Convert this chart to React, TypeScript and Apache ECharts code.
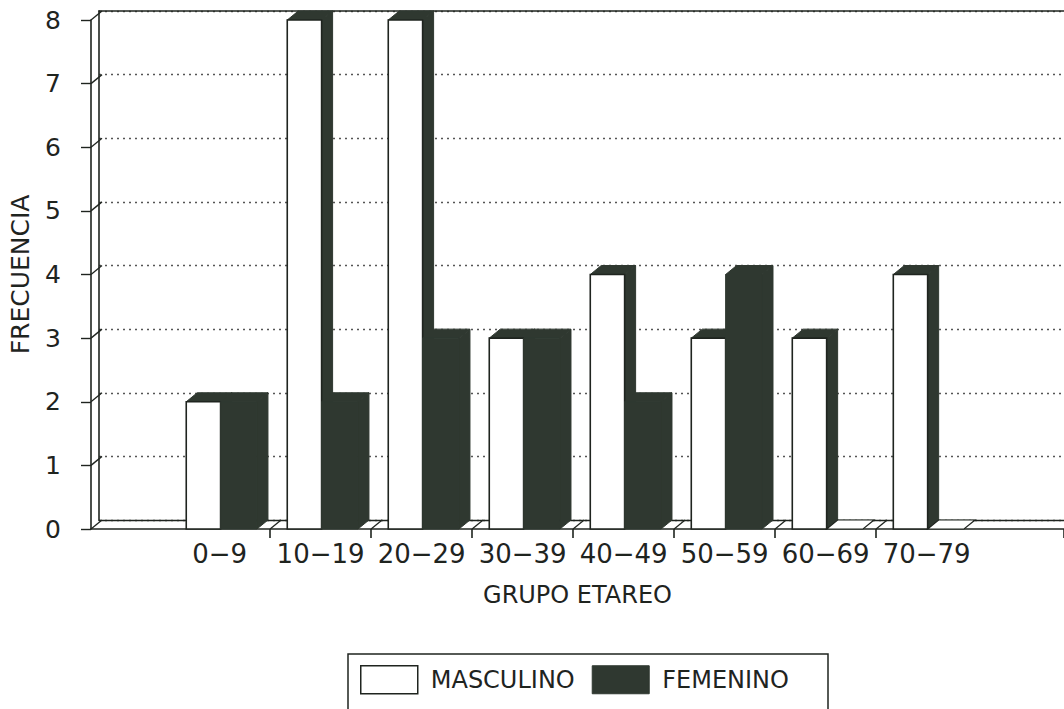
import React, { useEffect, useRef } from "react";
import * as echarts from "echarts";

// Grupos etarios y frecuencias por sexo
const CATEGORIAS = ["0−9", "10−19", "20−29", "30−39", "40−49", "50−59", "60−69", "70−79"];
const MASCULINO = [2, 8, 8, 3, 4, 3, 3, 4];
const FEMENINO = [2, 2, 3, 3, 2, 4, 0, 0];
const NIVELES_Y = [0, 1, 2, 3, 4, 5, 6, 7, 8];
const LIMITES_X = [0.5, 1.5, 2.5, 3.5, 4.5, 5.5, 6.5];

const X_MIN = -1.273;
const X_MAX = 8.36;

// pseudo-3D depth of the bars and back wall, in pixels
const DX = 11;
const DY = -9;

// bar extents inside each category slot (in category units)
const M_L = -0.33;
const M_R = 0.01;
const F_L = 0.01;
const F_R = 0.37;

const INK = "#1f241f";
const DARK = "#2f3830";
const FONT = "DejaVu Sans";

function faces(api: any, left: number, right: number, v: number) {
  const a = api.coord([left, v]);
  const b = api.coord([right, 0]);
  const x0 = a[0];
  const yT = a[1];
  const x1 = b[0];
  const yB = b[1];
  return {
    x0,
    x1,
    yT,
    yB,
    top: [
      [x0, yT],
      [x1, yT],
      [x1 + DX, yT + DY],
      [x0 + DX, yT + DY],
    ],
    side: [
      [x1, yT],
      [x1 + DX, yT + DY],
      [x1 + DX, yB + DY],
      [x1, yB],
    ],
  };
}

function renderMasculino(_params: any, api: any) {
  const i = api.value(0);
  const v = api.value(1);
  const f = faces(api, i + M_L, i + M_R, v);
  return {
    type: "group",
    children: [
      { type: "polygon", shape: { points: f.side }, style: { fill: DARK, stroke: DARK, lineWidth: 1 } },
      { type: "polygon", shape: { points: f.top }, style: { fill: DARK, stroke: DARK, lineWidth: 1 } },
      {
        type: "rect",
        shape: { x: f.x0, y: f.yT, width: f.x1 - f.x0, height: f.yB - f.yT },
        style: { fill: "#ffffff", stroke: INK, lineWidth: 1.6 },
      },
    ],
  };
}

function renderFemenino(_params: any, api: any) {
  const i = api.value(0);
  const v = api.value(1);
  const f = faces(api, i + F_L, i + F_R, v);
  if (v === 0) {
    return {
      type: "polygon",
      shape: { points: f.top },
      style: { fill: "#ffffff", stroke: INK, lineWidth: 1.2 },
    };
  }
  return {
    type: "group",
    children: [
      { type: "polygon", shape: { points: f.side }, style: { fill: DARK, stroke: DARK, lineWidth: 1 } },
      { type: "polygon", shape: { points: f.top }, style: { fill: DARK, stroke: DARK, lineWidth: 1 } },
      {
        type: "rect",
        shape: { x: f.x0, y: f.yT, width: f.x1 - f.x0, height: f.yB - f.yT },
        style: { fill: DARK, stroke: DARK, lineWidth: 1 },
      },
    ],
  };
}

// short depth edges joining the front axes to the back wall / floor
function renderArista(_params: any, api: any) {
  const p = api.coord([api.value(0), api.value(1)]);
  return {
    type: "line",
    shape: { x1: p[0], y1: p[1], x2: p[0] + DX, y2: p[1] + DY },
    style: { stroke: INK, lineWidth: 1.3 },
  };
}

export default function App() {
  const ref = useRef<HTMLDivElement>(null);

  useEffect(() => {
    if (!ref.current) return;
    const chart = echarts.init(ref.current, null, { renderer: "svg" });

    chart.setOption({
      animation: false,
      backgroundColor: "#ffffff",
      textStyle: { fontFamily: FONT, color: INK },
      grid: [
        { left: 88, right: 0, top: 20, bottom: 180 },
        { left: 99, right: 0, top: 11, bottom: 189 },
      ],
      xAxis: [
        {
          type: "value",
          gridIndex: 0,
          min: X_MIN,
          max: X_MAX,
          axisLine: { show: true, onZero: false, lineStyle: { color: INK, width: 1.6 } },
          axisTick: {
            show: true,
            length: 9,
            customValues: [...LIMITES_X, X_MAX],
            lineStyle: { color: INK, width: 1.6 },
          },
          axisLabel: {
            show: true,
            customValues: CATEGORIAS.map((_c, i) => i),
            formatter: (v: number) => CATEGORIAS[Math.round(v)] ?? "",
            fontSize: 26,
            color: INK,
            margin: 12,
            fontFamily: FONT,
          },
          splitLine: { show: false },
          name: "GRUPO ETAREO",
          nameLocation: "middle",
          nameGap: 54,
          nameTextStyle: { fontSize: 24, color: INK, fontFamily: FONT },
        },
        {
          type: "value",
          gridIndex: 1,
          min: 0,
          max: 1,
          position: "bottom",
          axisLine: { show: true, onZero: false, lineStyle: { color: INK, width: 1.3 } },
          axisTick: { show: false },
          axisLabel: { show: false },
          splitLine: { show: false },
        },
        {
          type: "value",
          gridIndex: 1,
          min: 0,
          max: 1,
          position: "top",
          axisLine: { show: true, onZero: false, lineStyle: { color: INK, width: 1.6 } },
          axisTick: { show: false },
          axisLabel: { show: false },
          splitLine: { show: false },
        },
      ],
      yAxis: [
        {
          type: "value",
          gridIndex: 0,
          min: 0,
          max: 8,
          interval: 1,
          axisLine: { show: true, onZero: false, lineStyle: { color: INK, width: 1.6 } },
          axisTick: { show: true, length: 10, lineStyle: { color: INK, width: 1.4 } },
          axisLabel: { fontSize: 25, color: INK, margin: 30, fontFamily: FONT },
          splitLine: { show: false },
          name: "FRECUENCIA",
          nameLocation: "middle",
          nameRotate: 90,
          nameGap: 58,
          nameTextStyle: { fontSize: 25, color: INK, fontFamily: FONT },
        },
        {
          type: "value",
          gridIndex: 1,
          min: 0,
          max: 8,
          interval: 1,
          axisLine: { show: true, onZero: false, lineStyle: { color: INK, width: 1.6 } },
          axisTick: { show: false },
          axisLabel: { show: false },
          splitLine: {
            show: true,
            lineStyle: { color: "#555", width: 1.3, type: [2, 4] },
          },
        },
      ],
      legend: {
        data: [
          { name: "MASCULINO", itemStyle: { color: "#ffffff", borderColor: INK, borderWidth: 1.5 } },
          { name: "FEMENINO", itemStyle: { color: DARK, borderColor: DARK, borderWidth: 1 } },
        ],
        icon: "rect",
        left: 360,
        top: 665,
        padding: 0,
        itemWidth: 57,
        itemHeight: 28,
        itemGap: 17,
        selectedMode: false,
        textStyle: { fontSize: 24, color: INK, fontFamily: FONT, padding: [0, 0, 0, 8] },
      },
      graphic: [
        {
          type: "rect",
          shape: { x: 348, y: 654, width: 480, height: 70 },
          style: { fill: "none", stroke: INK, lineWidth: 1.5 },
          silent: true,
        },
      ],
      series: [
        {
          name: "niveles",
          type: "custom",
          xAxisIndex: 0,
          yAxisIndex: 0,
          silent: true,
          renderItem: renderArista,
          data: NIVELES_Y.map((v) => [X_MIN, v]),
          z: 3,
        },
        {
          name: "limites",
          type: "custom",
          xAxisIndex: 0,
          yAxisIndex: 0,
          silent: true,
          renderItem: renderArista,
          data: LIMITES_X.map((b) => [b, 0]),
          z: 3,
        },
        {
          name: "MASCULINO",
          type: "custom",
          xAxisIndex: 0,
          yAxisIndex: 0,
          renderItem: renderMasculino,
          itemStyle: { color: "#ffffff", borderColor: INK },
          data: MASCULINO.map((v, i) => [i, v]),
          z: 4,
        },
        {
          name: "FEMENINO",
          type: "custom",
          xAxisIndex: 0,
          yAxisIndex: 0,
          renderItem: renderFemenino,
          itemStyle: { color: DARK },
          data: FEMENINO.map((v, i) => [i, v]),
          z: 5,
        },
      ],
    });

    return () => chart.dispose();
  }, []);

  return (
    <div
      ref={ref}
      style={{ position: "fixed", left: 0, top: 0, width: 1064, height: 709, background: "#ffffff" }}
    />
  );
}
